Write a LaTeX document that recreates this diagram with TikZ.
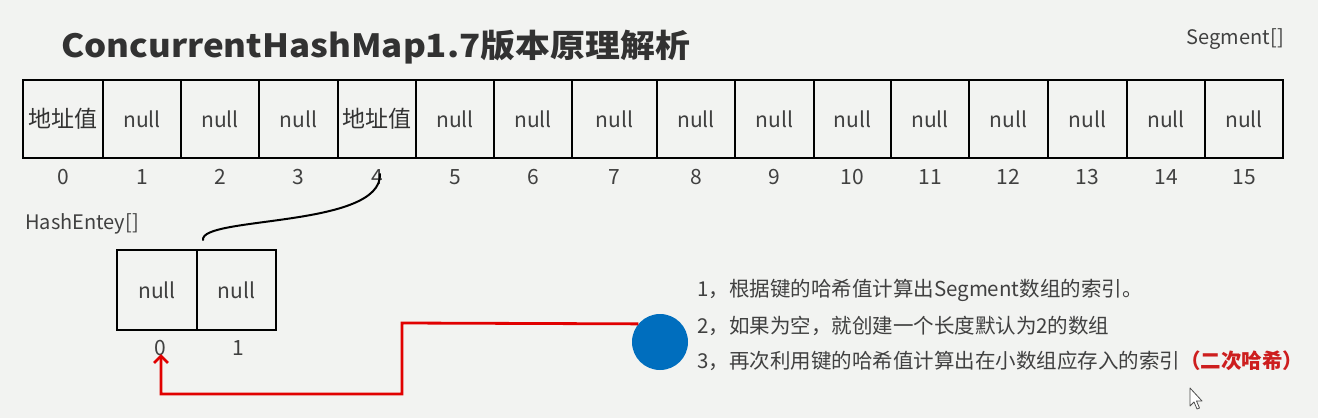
\documentclass[tikz,border=0pt]{standalone}
\usepackage{fontspec}
\setmainfont{Noto Sans CJK SC}
\usetikzlibrary{arrows.meta}
\definecolor{bgc}{RGB}{242,243,241}
\definecolor{txt}{RGB}{64,64,64}
\definecolor{ttl}{RGB}{50,50,50}
\definecolor{redc}{RGB}{225,0,0}
\definecolor{redt}{RGB}{205,30,30}
\definecolor{bluec}{RGB}{0,110,190}
\tikzset{
  cellbox/.style={draw=black, line width=2.6pt, minimum height=78pt, inner sep=0pt, text=txt, font=\fontsize{21}{21}\selectfont},
  idx/.style={text=txt, font=\fontsize{21}{21}\selectfont, inner sep=1pt},
  lbl/.style={text=txt, font=\fontsize{20}{20}\selectfont, inner sep=0pt},
  note/.style={text=txt, font=\fontsize{20.5}{20.5}\selectfont, inner sep=0pt, anchor=west},
  redline/.style={draw=redc, line width=2.8pt, line join=miter},
}
\newcommand{\addrval}{{\fontsize{23}{23}\selectfont\color{ttl}地址值}}
\begin{document}
\begin{tikzpicture}[x=1pt,y=-1pt]
\fill[bgc] (0,0) rectangle (1318,418);
\useasboundingbox (0,0) rectangle (1318,418);
% title
\node[anchor=base west, inner sep=0pt, text=ttl, font=\fontsize{32}{32}\selectfont\bfseries] (title) at (61,57) {\scalebox{1.09}[1]{ConcurrentHashMap1.7版本原理解析}};
\node[lbl, anchor=base east] (seg) at (1284,44) {Segment[]};
% segment array
\foreach \i/\a/\b/\t in {0/23/103/\addrval, 1/103/181/null, 2/181/259/null, 3/259/338/null, 4/338/416/\addrval, 5/416/494/null, 6/494/572/null, 7/572/657/null, 8/657/735/null, 9/735/814/null, 10/814/891/null, 11/891/969/null, 12/969/1048/null, 13/1048/1127/null, 14/1127/1205/null, 15/1205/1283/null}{
  \pgfmathsetmacro{\w}{\b-\a}
  \pgfmathsetmacro{\c}{(\a+\b)/2}
  \node[cellbox, minimum width=\w pt] (s\i) at (\c,119) {\t};
  \node[idx] (i\i) at (\c,177) {\i};
}
% HashEntry array
\node[lbl, anchor=west] (he) at (25,224) {HashEntey[]};
\node[cellbox, minimum width=80pt, minimum height=80pt] (h0) at (157,290) {null};
\node[cellbox, minimum width=79pt, minimum height=80pt] (h1) at (236.5,290) {null};
\node[idx] (l0) at (160,348) {0};
\node[idx] (l1) at (238,348) {1};
% curve from small array to index 4
\coordinate (cs) at (203,240);
\coordinate (ce) at (380,174);
\draw[line width=2pt, line cap=round] (cs) .. controls (200,216) and (382,228) .. (ce);
% blue circle
\node[circle, fill=bluec, minimum size=56pt, inner sep=0pt] (circ) at (660,342) {};
% red path
\coordinate (tip) at (161,354);
\draw[redline, -{Straight Barb[length=7pt, width=14pt, line width=2.8pt]}] (circ.140) -- (402,323) -- (402,394) -- (161,394) -- (tip);
% notes
\node[note] (n1) at (697,290) {1，根据键的哈希值计算出Segment数组的索引。};
\node[note] (n2) at (697,326) {2，如果为空，就创建一个长度默认为2的数组};
\node[note] (n3) at (697,361) {3，再次利用键的哈希值计算出在小数组应存入的索引{\color{redt}\bfseries（二次哈希）}};
% mouse cursor
\draw[fill=white, draw=black!70, line width=0.8pt, line join=round] (1190,388) -- (1190,406) -- (1194,402) -- (1197,409) -- (1199.5,408) -- (1196.5,401) -- (1202,401) -- cycle;
\end{tikzpicture}
\end{document}
